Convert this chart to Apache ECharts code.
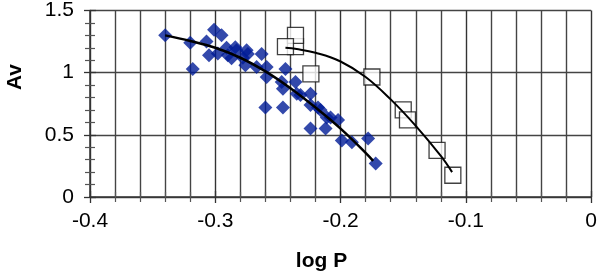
<!DOCTYPE html>
<html>
<head>
<meta charset="utf-8">
<script src="https://cdn.jsdelivr.net/npm/echarts@6/dist/echarts.min.js"></script>
<style>
html,body{margin:0;padding:0;background:#fff;}
#chart{width:600px;height:275px;}
</style>
</head>
<body>
<div id="chart"></div>
<script>
// Blue diamond observations: [log P, Av]
var bluePoints = [
  [-0.340, 1.30], [-0.320, 1.24], [-0.318, 1.03], [-0.301, 1.345], [-0.295, 1.30],
  [-0.307, 1.25], [-0.305, 1.14], [-0.298, 1.155], [-0.291, 1.20], [-0.290, 1.14],
  [-0.287, 1.115], [-0.284, 1.205], [-0.283, 1.18], [-0.278, 1.12], [-0.275, 1.18],
  [-0.274, 1.15], [-0.276, 1.06], [-0.267, 1.045], [-0.263, 1.15], [-0.259, 1.045],
  [-0.259, 0.965], [-0.260, 0.72], [-0.246, 0.72], [-0.244, 1.03], [-0.247, 0.925],
  [-0.236, 0.925], [-0.246, 0.87], [-0.235, 0.83], [-0.232, 0.82], [-0.224, 0.83],
  [-0.224, 0.74], [-0.218, 0.72], [-0.216, 0.70], [-0.211, 0.64], [-0.208, 0.64],
  [-0.202, 0.62], [-0.224, 0.55], [-0.212, 0.55], [-0.199, 0.455], [-0.191, 0.44],
  [-0.178, 0.47], [-0.172, 0.27]
];
// Open square observations: [log P, Av]
var squarePoints = [
  [-0.236, 1.21], [-0.236, 1.30], [-0.244, 1.21], [-0.2237, 0.99], [-0.175, 0.965],
  [-0.150, 0.70], [-0.1466, 0.62], [-0.123, 0.375], [-0.1104, 0.175]
];
// Trend curve through blue diamonds
var blueTrend = [
  [-0.340, 1.30], [-0.320, 1.255], [-0.300, 1.20], [-0.280, 1.12], [-0.260, 1.01],
  [-0.240, 0.875], [-0.220, 0.72], [-0.200, 0.55], [-0.180, 0.355], [-0.174, 0.29]
];
// Trend curve through open squares
var squareTrend = [
  [-0.244, 1.20], [-0.235, 1.19], [-0.220, 1.16], [-0.200, 1.09], [-0.180, 0.965],
  [-0.160, 0.785], [-0.140, 0.572], [-0.120, 0.33], [-0.111, 0.20]
];
var xTickLabels = ['-0.4', '-0.3', '-0.2', '-0.1', '0'];
var yTickLabels = ['0', '0.5', '1', '1.5'];
var xTitle = 'log P';
var yTitle = 'Av';

var FONT = '"Liberation Sans", Arial, sans-serif';
var chart = echarts.init(document.getElementById('chart'), null, {renderer: 'canvas'});

function xLabel(v) {
  var i = Math.round((v + 0.4) / 0.1);
  return xTickLabels[i] !== undefined ? xTickLabels[i] : '';
}
function yLabel(v) {
  var i = Math.round(v / 0.5);
  return yTickLabels[i] !== undefined ? yTickLabels[i] : '';
}

var option = {
  animation: false,
  backgroundColor: '#fff',
  grid: {left: 90, right: 8, top: 10, bottom: 78, show: false},
  xAxis: [{
    type: 'value', min: -0.4, max: 0, interval: 0.1, position: 'bottom',
    axisLine: {show: true, onZero: false, lineStyle: {color: '#333', width: 1.5}},
    axisTick: {show: true, inside: false, length: 6, lineStyle: {color: '#333', width: 1.3}},
    minorTick: {show: true, splitNumber: 5, length: 5, lineStyle: {color: '#555', width: 1.2}},
    axisLabel: {margin: 14, fontSize: 21, color: '#000', fontFamily: FONT, formatter: xLabel},
    splitLine: {show: true, lineStyle: {color: '#333', width: 1.4}},
    minorSplitLine: {show: true, lineStyle: {color: '#444', width: 1.4}}
  }, {
    type: 'value', min: -0.4, max: 0, interval: 0.1, position: 'bottom',
    axisLine: {show: false, onZero: false},
    axisTick: {show: true, inside: true, length: 6, lineStyle: {color: '#333', width: 1.3}},
    minorTick: {show: true, splitNumber: 5, length: 5, lineStyle: {color: '#555', width: 1.2}},
    axisLabel: {show: false},
    splitLine: {show: false}
  }],
  yAxis: [{
    type: 'value', min: 0, max: 1.5, interval: 0.5, position: 'left',
    axisLine: {show: true, onZero: false, lineStyle: {color: '#333', width: 1.5}},
    axisTick: {show: true, inside: false, length: 6, lineStyle: {color: '#333', width: 1.3}},
    minorTick: {show: true, splitNumber: 5, length: 5, lineStyle: {color: '#555', width: 1.2}},
    axisLabel: {margin: 16, fontSize: 21, color: '#000', fontFamily: FONT, formatter: yLabel},
    splitLine: {show: true, lineStyle: {color: '#444', width: 1.4}}
  }, {
    type: 'value', min: 0, max: 1.5, interval: 0.5, position: 'left',
    axisLine: {show: false, onZero: false},
    axisTick: {show: true, inside: true, length: 6, lineStyle: {color: '#333', width: 1.3}},
    minorTick: {show: true, splitNumber: 5, length: 5, lineStyle: {color: '#555', width: 1.2}},
    axisLabel: {show: false},
    splitLine: {show: false}
  }],
  series: [{
    type: 'scatter', data: bluePoints, symbol: 'diamond', symbolSize: 14,
    itemStyle: {color: '#001c96'}, z: 3
  }, {
    type: 'scatter', data: squarePoints, symbol: 'rect', symbolSize: 16,
    itemStyle: {color: '#fff', borderColor: '#111', borderWidth: 1.3}, z: 4
  }, {
    type: 'line', data: blueTrend, smooth: 0.4, showSymbol: false, symbol: 'none',
    lineStyle: {color: '#000', width: 2.5}, z: 5
  }, {
    type: 'line', data: squareTrend, smooth: 0.4, showSymbol: false, symbol: 'none',
    lineStyle: {color: '#000', width: 2}, z: 5
  }],
  graphic: [{
    type: 'text', x: 321.5, y: 261.5,
    style: {text: xTitle, x: 0, y: 0, align: 'center', verticalAlign: 'middle',
      font: 'bold 21px ' + FONT, fill: '#000'}
  }, {
    type: 'text', x: 15, y: 77, rotation: Math.PI / 2,
    style: {text: yTitle, x: 0, y: 0, align: 'center', verticalAlign: 'middle',
      font: 'bold 21px ' + FONT, fill: '#000'}
  }]
};
chart.setOption(option);
</script>
</body>
</html>
